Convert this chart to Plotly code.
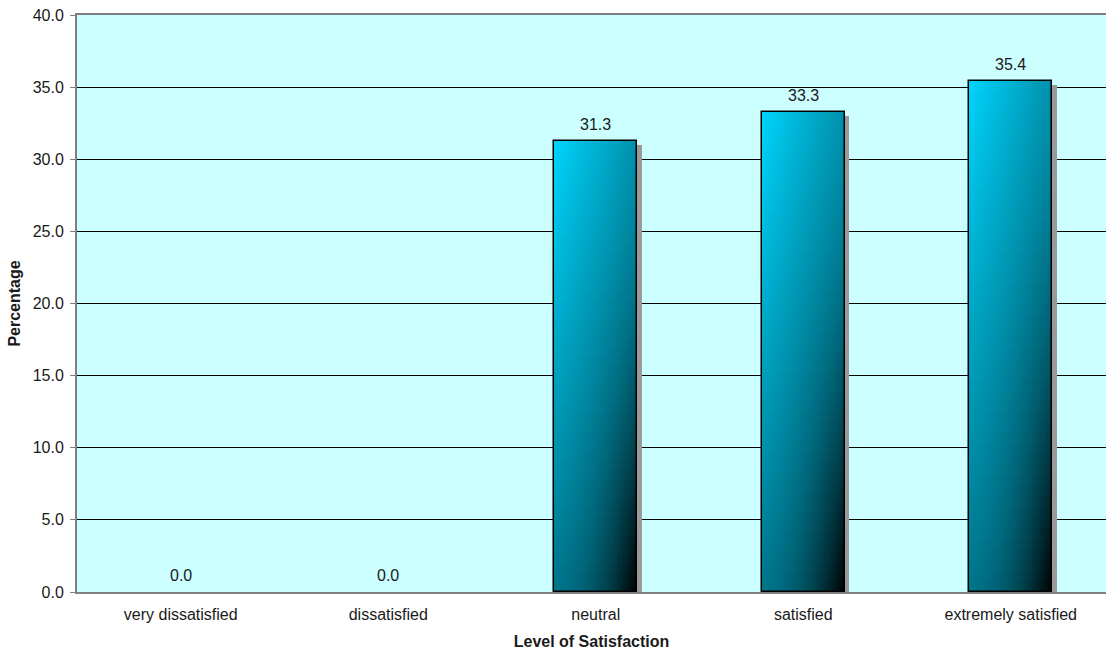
import numpy as np
import plotly.graph_objects as go

# Survey results: share of respondents per satisfaction level
categories = ["very dissatisfied", "dissatisfied", "neutral", "satisfied", "extremely satisfied"]
percentages = [0.0, 0.0, 31.3, 33.3, 35.4]

FONT = "Arial, Liberation Sans, sans-serif"
FS = 16
BAR_W = 0.4
N_STRIPS = 28
N_BANDS = 48
TOP_RGB = np.array([0, 212, 252])


def shade(u, v):
    # u: 0 left -> 1 right, v: 0 top -> 1 bottom; darkens toward the lower right corner
    f = (1 - 0.32 * u) * (1 - 0.45 * v) * (1 - (u * v) ** 2.5)
    r, g, b = (TOP_RGB * f).round().astype(int)
    return f"rgb({r},{g},{b})"


fig = go.Figure()
nonzero = [v if v > 0 else None for v in percentages]

# drop shadow on the right side of each bar
shadow_px = 4 / 14.43
fig.add_trace(go.Bar(
    x=categories, y=[v - shadow_px if v else None for v in nonzero], base=0,
    width=0.022, offset=BAR_W / 2,
    marker=dict(color="#9a9a9a", line=dict(width=0)),
    hoverinfo="skip", showlegend=False,
))

# gradient fill built from strips and bands of each bar
strip_w = BAR_W / N_STRIPS
for j in range(N_STRIPS):
    u = (j + 0.5) / N_STRIPS
    xs, ys, bases, cols = [], [], [], []
    for cat, v in zip(categories, percentages):
        if v <= 0:
            continue
        seg = v / N_BANDS
        for k in range(N_BANDS):
            vv = 1 - (k + 0.5) / N_BANDS
            xs.append(cat)
            ys.append(seg * 1.03)
            bases.append(seg * k)
            cols.append(shade(u, vv))
    fig.add_trace(go.Bar(
        x=xs, y=ys, base=bases, width=strip_w * 1.08, offset=-BAR_W / 2 + j * strip_w,
        marker=dict(color=cols, line=dict(width=0)),
        hoverinfo="skip", showlegend=False,
    ))

# bar outlines
fig.add_trace(go.Bar(
    x=categories, y=nonzero, width=BAR_W,
    marker=dict(color="rgba(0,0,0,0)", line=dict(color="black", width=1.5)),
    hovertemplate="%{x}: %{y:.1f}<extra></extra>", showlegend=False,
))

# value labels above bars
for cat, v in zip(categories, percentages):
    fig.add_annotation(
        x=cat, y=v, text=f"{v:.1f}", showarrow=False,
        yanchor="bottom", yshift=6,
        font=dict(family=FONT, size=FS, color="#1a1a1a"),
    )

fig.update_layout(
    width=1106, height=654,
    margin=dict(l=77, r=0, t=15, b=62),
    paper_bgcolor="white", plot_bgcolor="#CCFFFF",
    barmode="overlay", bargap=0,
    font=dict(family=FONT, size=FS, color="#1a1a1a"),
    xaxis=dict(
        range=[-0.5, 4.459], showgrid=False, zeroline=False,
        showline=True, linecolor="#808080", linewidth=2, mirror=True,
        ticks="", tickfont=dict(size=FS), ticklabelstandoff=7,
        title=dict(text="<b>Level of Satisfaction</b>", font=dict(size=FS), standoff=14),
    ),
    yaxis=dict(
        range=[0, 40], dtick=5, tickformat=".1f",
        showgrid=True, gridcolor="black", gridwidth=1, zeroline=False,
        showline=True, linecolor="#808080", linewidth=2,
        ticks="outside", ticklen=5, tickcolor="#808080",
        tickfont=dict(size=FS), ticklabelstandoff=3,
        title=dict(text="<b>Percentage</b>", font=dict(size=FS), standoff=8),
    ),
)

fig.write_html("out.html")
